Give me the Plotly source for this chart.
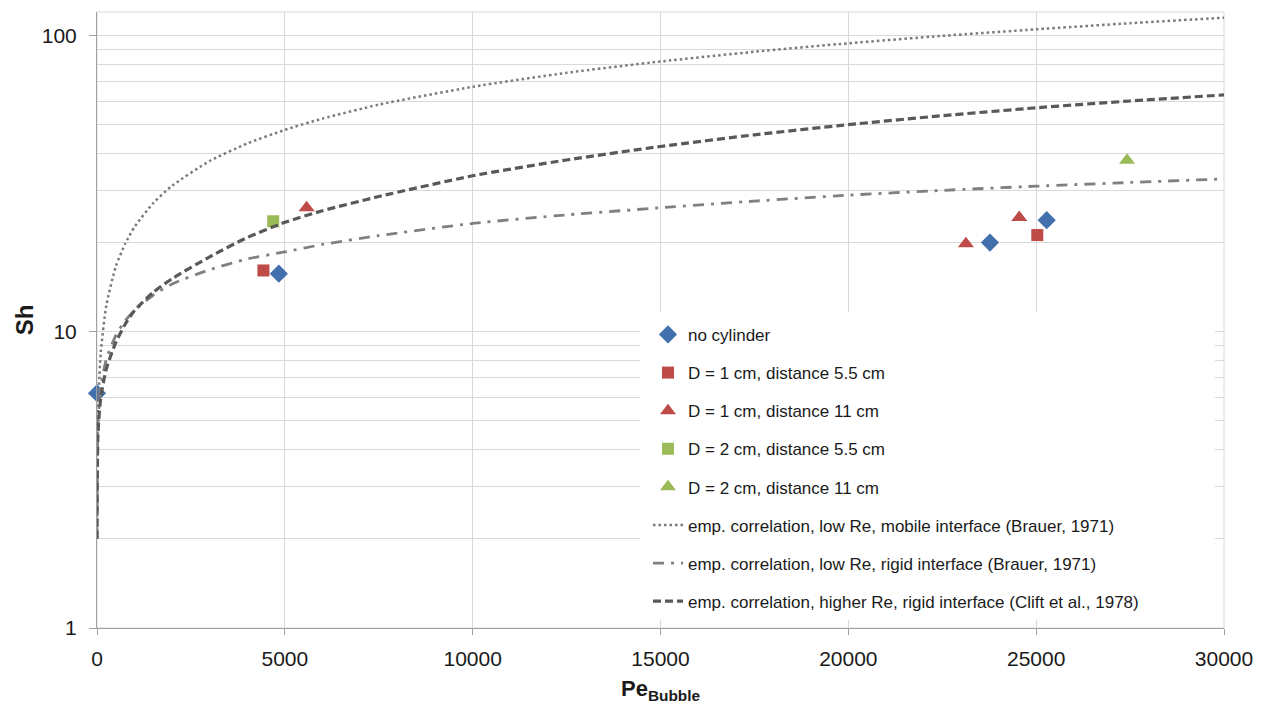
import plotly.graph_objects as go

# ---------------- data ----------------
no_cyl_pe = [0, 4840, 23770, 25280]
no_cyl_sh = [6.2, 15.7, 20.0, 23.8]

d1_55_pe = [4430, 25030]
d1_55_sh = [16.1, 21.2]

d1_11_pe = [5580, 23130, 24550]
d1_11_sh = [26.2, 19.8, 24.3]

d2_55_pe = [4690]
d2_55_sh = [23.6]

d2_11_pe = [27420]
d2_11_sh = [37.9]

corr_pe = [0, 25, 100, 250, 500, 750, 1000, 1500, 2000, 3000, 4000, 5000, 6000,
           7500, 10000, 12500, 15000, 17500, 20000, 22500, 25000, 27500, 30000]
mobile_sh = [2.0, 5.3, 8.5, 12.3, 16.6, 19.8, 22.6, 27.2, 31.1, 37.7, 43.2, 48.0, 52.4,
             58.4, 67.1, 74.8, 81.7, 88.1, 94.1, 99.7, 104.9, 110.0, 114.8]
rigid_sh = [2.0, 4.8, 6.5, 8.1, 9.7, 10.9, 11.8, 13.3, 14.5, 16.2, 17.6, 18.6, 19.7,
            21.1, 23.2, 24.8, 26.2, 27.6, 28.9, 30.0, 31.0, 31.9, 32.8]
clift_sh = [2.0, 4.5, 6.0, 7.5, 9.2, 10.6, 11.8, 13.6, 15.1, 17.9, 20.8, 23.4, 25.6,
            28.6, 33.6, 38.0, 42.2, 46.2, 50.0, 53.6, 57.0, 60.1, 63.0]

x_ticks = [0, 5000, 10000, 15000, 20000, 25000, 30000]
y_ticks = [1, 10, 100]
y_minor = [2, 3, 4, 5, 6, 7, 8, 9, 20, 30, 40, 50, 60, 70, 80, 90]

BLUE = "#4170AD"
RED = "#BE4B48"
GREEN = "#9BBB59"
GRID = "#D9D9D9"
FONT = "Liberation Sans, Arial, sans-serif"

fig = go.Figure()

def pts(x, y, name, symbol, color, size, grp):
    fig.add_trace(go.Scatter(x=x, y=y, mode="markers", name=name, legendgroup=grp,
                             cliponaxis=False,
                             marker=dict(symbol=symbol, color=color, size=size,
                                         line=dict(width=0))))

pts(no_cyl_pe, no_cyl_sh, "no cylinder", "diamond", BLUE, 14, "a")
pts(d1_55_pe, d1_55_sh, "D = 1 cm, distance 5.5 cm", "square", RED, 12, "b")
pts(d1_11_pe, d1_11_sh, "D = 1 cm, distance 11 cm", "triangle-up", RED, 14, "c")
pts(d2_55_pe, d2_55_sh, "D = 2 cm, distance 5.5 cm", "square", GREEN, 12, "d")
pts(d2_11_pe, d2_11_sh, "D = 2 cm, distance 11 cm", "triangle-up", GREEN, 14, "e")

def curve(y, name, color, width, dash, grp):
    fig.add_trace(go.Scatter(x=corr_pe, y=y, mode="lines", name=name, legendgroup=grp,
                             cliponaxis=False,
                             line=dict(color=color, width=width, dash=dash, shape="spline",
                                       smoothing=0.6)))

curve(mobile_sh, "emp. correlation, low Re, mobile interface (Brauer, 1971)",
      "#7A7A7A", 2.5, "2.5px,3px", "f")
curve(rigid_sh, "emp. correlation, low Re, rigid interface (Brauer, 1971)",
      "#808080", 2.8, "11px,7px,3px,7px", "g")
curve(clift_sh, "emp. correlation, higher Re, rigid interface (Clift et al., 1978)",
      "#595959", 3.2, "8px,4px", "h")

fig.update_layout(
    width=1266, height=704,
    margin=dict(l=97, r=42, t=12, b=76, autoexpand=False),
    paper_bgcolor="white", plot_bgcolor="white",
    font=dict(family=FONT, color="#1a1a1a"),
    legend=dict(x=0.4889, y=0.505, xanchor="left", yanchor="top",
                bgcolor="white", borderwidth=0, tracegroupgap=13,
                font=dict(size=17, family=FONT, color="#1a1a1a")),
    shapes=[
        dict(type="rect", xref="paper", yref="paper", x0=0, x1=1, y0=0, y1=1,
             line=dict(color=GRID, width=1), layer="below"),
        # white legend panel (as in the reference, the legend box hides the grid)
        dict(type="rect", xref="paper", yref="paper", x0=0.4818, x1=0.992,
             y0=0.013, y1=0.512, fillcolor="white", line=dict(width=0),
             layer="above"),
    ],
)

fig.update_xaxes(range=[0, 30000], tickvals=x_ticks, ticktext=[str(v) for v in x_ticks],
                 automargin=False,
                 showgrid=True, gridcolor=GRID, gridwidth=1,
                 showline=True, linecolor="#A0A0A0", linewidth=1,
                 ticks="outside", ticklen=6, tickcolor="#A0A0A0",
                 tickfont=dict(size=21, family=FONT, color="#1a1a1a"),
                 ticklabelstandoff=6, zeroline=False,
                 title=dict(text="<b>Pe<sub>Bubble</sub></b>",
                            font=dict(size=22, family=FONT, color="#1a1a1a"),
                            standoff=12))

fig.update_yaxes(type="log", range=[0, 2.0792], tickvals=y_ticks,
                 ticktext=[str(v) for v in y_ticks],
                 automargin=False,
                 showgrid=True, gridcolor=GRID, gridwidth=1,
                 showline=True, linecolor="#A0A0A0", linewidth=1,
                 ticks="outside", ticklen=7, tickcolor="#A0A0A0",
                 tickfont=dict(size=21, family=FONT, color="#1a1a1a"),
                 ticklabelstandoff=8, zeroline=False,
                 minor=dict(tickvals=y_minor, showgrid=True, gridcolor=GRID,
                            ticks=""),
                 title=dict(text="<b>Sh</b>",
                            font=dict(size=24, family=FONT, color="#1a1a1a"),
                            standoff=1))

fig.write_html("out.html", config={"displayModeBar": False},
               post_script="document.body.style.margin='0';document.body.style.padding='0';")
